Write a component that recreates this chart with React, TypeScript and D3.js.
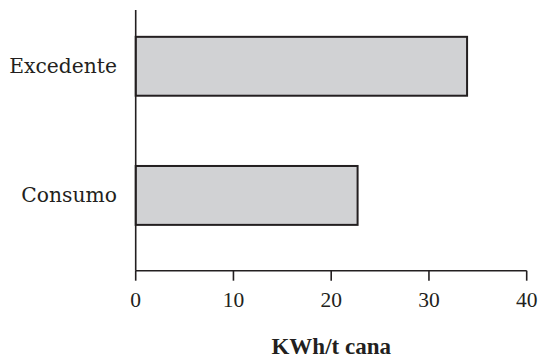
import React from "react";
import * as d3 from "d3";

const categories = ["Excedente", "Consumo"];
const values = [33.9, 22.7];
const xTicks = [0, 10, 20, 30, 40];
const xTitle = "KWh/t cana";

export default function App() {
  const W = 541, H = 358;
  const x = d3.scaleLinear().domain([0, 40]).range([135.7, 526.7]);
  const y = d3.scaleBand<string>().domain(categories).range([1.7, 260]).paddingInner(0.544).paddingOuter(0.272);
  const axisY = 270.7;
  const ink = "#231f20";
  return (
    <svg width={W} height={H} style={{ position: "absolute", left: 0, top: 0, background: "#fff" }}>
      {categories.map((c, i) => (
        <g key={c}>
          <rect x={x(0)} y={y(c)!} width={x(values[i]) - x(0)} height={y.bandwidth()}
            fill="#d1d2d4" stroke={ink} strokeWidth={2} />
          <text x={117} y={y(c)! + y.bandwidth() / 2 + 7} textAnchor="end"
            fontFamily="DejaVu Serif" fontSize={20.3} fill={ink}>{c}</text>
        </g>
      ))}
      <line x1={x(0)} x2={x(0)} y1={10} y2={axisY} stroke={ink} strokeWidth={1.6} />
      <line x1={x(0)} x2={x(40)} y1={axisY} y2={axisY} stroke={ink} strokeWidth={1.6} />
      {xTicks.map(t => (
        <g key={t}>
          <line x1={x(t)} x2={x(t)} y1={axisY} y2={axisY + 10} stroke={ink} strokeWidth={1.6} />
          <text x={x(t)} y={306.7} textAnchor="middle" fontFamily="Liberation Serif" fontSize={21.5} fill={ink}>{t}</text>
        </g>
      ))}
      <text x={(x(0) + x(40)) / 2} y={354} textAnchor="middle" fontFamily="Liberation Serif" fontWeight="bold"
        fontSize={23} fill={ink}>{xTitle}</text>
    </svg>
  );
}
